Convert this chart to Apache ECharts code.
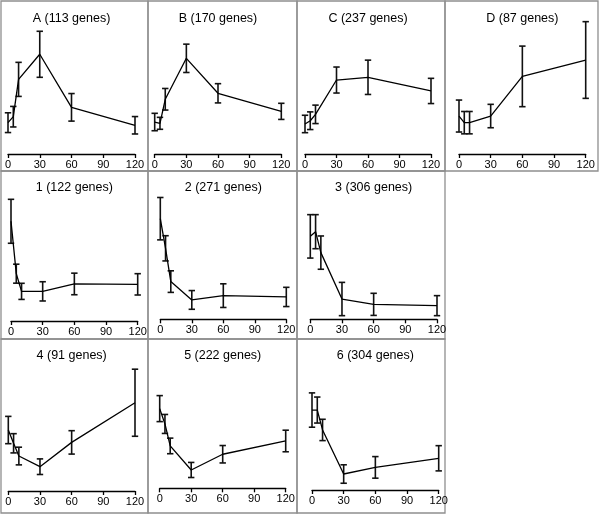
<!DOCTYPE html>
<html><head><meta charset="utf-8">
<script src="https://cdn.jsdelivr.net/npm/echarts@6/dist/echarts.min.js"></script>
<style>html,body{margin:0;padding:0;background:#fff}#c{width:600px;height:515px}</style>
</head><body><div id="c"></div>
<script>
// ---- data ----
const times = [0, 5, 10, 30, 60, 120];
const xTicks = [0, 30, 60, 90, 120];
const titles = ['A (113 genes)', 'B (170 genes)', 'C (237 genes)', 'D (87 genes)',
                '1 (122 genes)', '2 (271 genes)', '3 (306 genes)',
                '4 (91 genes)', '5 (222 genes)', '6 (304 genes)'];
const meanA = [24.1, 28.7, 57.4, 76.7, 35.9, 22.1];
const errA  = [7.6, 7.9, 13.1, 17.7, 10.6, 6.7];
const meanB = [24.6, 23.6, 42.1, 73.6, 46.7, 32.8];
const errB  = [6.7, 4.6, 8.3, 10.9, 7.4, 6.2];
const meanC = [23.1, 25.6, 30.5, 56.9, 59.0, 48.5];
const errC  = [6.7, 6.8, 7.1, 10.0, 13.2, 9.7];
const meanD = [29.2, 24.1, 24.1, 29.2, 59.7, 72.3];
const errD  = [12.3, 8.6, 8.6, 9.0, 23.3, 29.5];
const mean1 = [76.7, 36.4, 22.8, 22.8, 28.5, 28.2];
const err1  = [16.9, 7.3, 6.2, 7.4, 8.3, 8.2];
const mean2 = [77.4, 54.6, 29.0, 14.9, 18.2, 17.2];
const err2  = [16.3, 9.7, 8.3, 7.2, 9.1, 7.4];
const mean3 = [63.8, 67.4, 51.3, 15.6, 11.5, 10.5];
const err3  = [16.7, 13.1, 12.8, 12.8, 8.5, 7.7];
const mean4 = [46.9, 36.7, 26.9, 18.7, 37.4, 67.9];
const err4  = [10.5, 7.4, 6.8, 6.0, 9.0, 25.8];
const mean5 = [61.3, 49.5, 32.6, 14.1, 26.2, 36.4];
const err5  = [10.0, 7.3, 6.0, 5.8, 6.7, 8.3];
const mean6 = [61.5, 61.5, 46.2, 12.3, 17.4, 24.4];
const err6  = [13.2, 10.0, 8.2, 7.1, 8.3, 9.7];
const means = [meanA, meanB, meanC, meanD, mean1, mean2, mean3, mean4, mean5, mean6];
const errs  = [errA, errB, errC, errD, err1, err2, err3, err4, err5, err6];

// ---- layout (pixels) ----
const plotL = [8, 154.7, 305, 459, 11, 160.3, 310.3, 8.3, 159.7, 312];
const plotR = [135, 281.3, 431, 585.7, 137.7, 286.3, 437, 135, 285.7, 438.7];
const axisY = [154, 154, 154, 154, 321, 319.3, 319.3, 491, 488.3, 490];
const titleTop = [12, 12, 12, 12, 181, 181, 181, 349, 349, 349];
const boxX = [1, 148, 297, 445, 1, 148, 297, 1, 148, 297];
const boxW = [147, 149, 148, 153, 147, 149, 148, 147, 149, 148];
const boxY = [1, 1, 1, 1, 171, 171, 171, 339, 339, 339];
const boxH = [170, 170, 170, 170, 168, 168, 168, 174, 174, 174];
const YMAX = 110, PXPER = 1.3;

const chart = echarts.init(document.getElementById('c'));
const grid = [], xAxis = [], yAxis = [], series = [], title = [], graphic = [];
for (let i = 0; i < titles.length; i++) {
  const h = YMAX * PXPER;
  grid.push({left: plotL[i], width: plotR[i] - plotL[i], top: axisY[i] - h, height: h});
  xAxis.push({gridIndex: i, type: 'value', min: 0, max: 120, interval: 30,
    axisLine: {lineStyle: {color: '#000', width: 1.3}},
    axisTick: {length: 4, lineStyle: {color: '#000', width: 1.3}},
    axisLabel: {color: '#000', fontSize: 11, margin: 5, fontFamily: 'Liberation Sans Narrow, Liberation Sans, Arial'},
    splitLine: {show: false}});
  yAxis.push({gridIndex: i, type: 'value', min: 0, max: YMAX, show: false, splitLine: {show: false}});
  const pts = times.map((t, k) => [t, means[i][k]]);
  const ebs = times.map((t, k) => [t, means[i][k], errs[i][k]]);
  series.push({type: 'line', xAxisIndex: i, yAxisIndex: i, data: pts, symbol: 'none',
    lineStyle: {color: '#000', width: 1.3}, animation: false, z: 3});
  series.push({type: 'custom', xAxisIndex: i, yAxisIndex: i, data: ebs, clip: false, animation: false,
    encode: {x: 0, y: 1}, z: 2,
    renderItem: function (params, api) {
      const x = api.value(0), m = api.value(1), e = api.value(2);
      const a = api.coord([x, m + e]), b = api.coord([x, m - e]);
      const hw = 3.2, st = {stroke: '#111', lineWidth: 1.6};
      return {type: 'group', children: [
        {type: 'line', shape: {x1: a[0], y1: a[1], x2: b[0], y2: b[1]}, style: st},
        {type: 'line', shape: {x1: a[0] - hw, y1: a[1], x2: a[0] + hw, y2: a[1]}, style: st},
        {type: 'line', shape: {x1: b[0] - hw, y1: b[1], x2: b[0] + hw, y2: b[1]}, style: st}
      ]};
    }});
  title.push({text: titles[i], left: (plotL[i] + plotR[i]) / 2, top: titleTop[i], textAlign: 'center',
    padding: 0, textStyle: {fontSize: 12.5, fontWeight: 'normal', color: '#000', fontFamily: 'Liberation Sans, Arial'}});
  graphic.push({type: 'rect', shape: {x: boxX[i], y: boxY[i], width: boxW[i], height: boxH[i]},
    style: {fill: 'none', stroke: '#8f8f8f', lineWidth: 1.3}, silent: true, z: 0});
}
chart.setOption({animation: false, grid, xAxis, yAxis, series, title, graphic});
</script></body></html>
